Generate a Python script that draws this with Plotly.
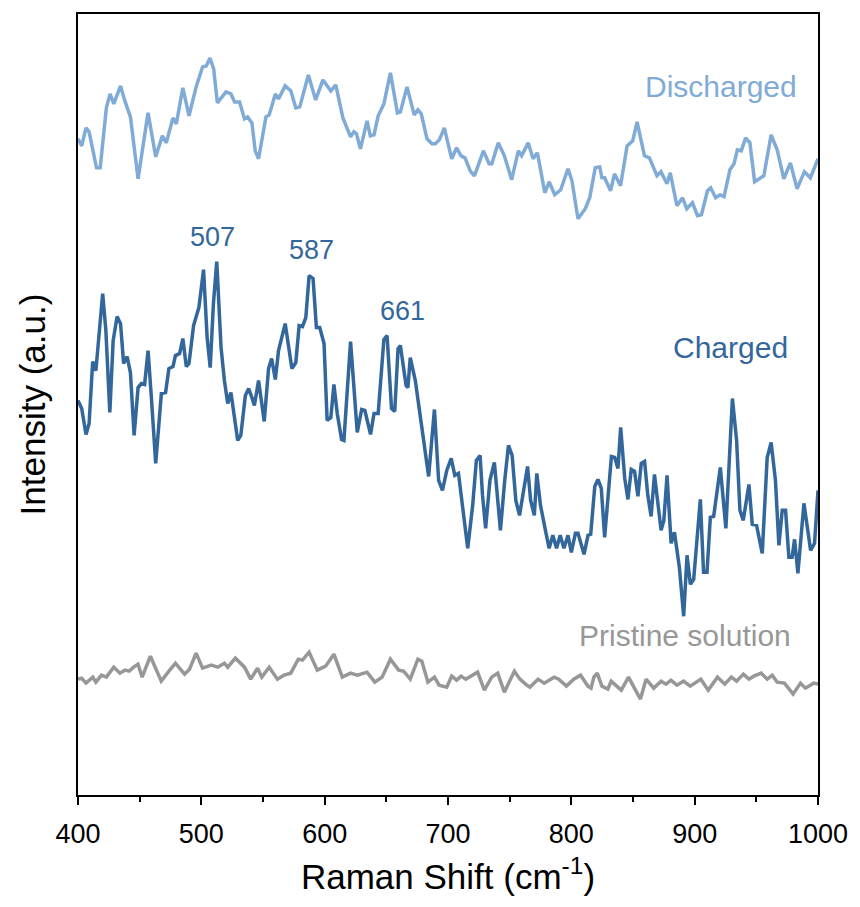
import plotly.graph_objects as go

# ---------------- data (Raman shift in cm^-1, intensity in arbitrary units) ----------------
dis_x = [400, 403, 406.5, 409, 415, 418, 423, 426, 429, 434.5, 438, 442.5, 448.7, 456.8, 463, 468.4, 471.6, 477,
         479.7, 485, 490, 496, 501, 504, 507, 510, 513, 520, 524, 527, 531, 535, 537.5, 541, 543.7, 546.4, 552.4,
         555, 560, 562.6, 568, 572.6, 576.6, 579.8, 586.8, 592.7, 598.6, 605, 609, 614.8, 621, 623.7, 625.8, 629,
         634.4, 637, 640, 643.4, 648, 653.3, 659, 661.4, 666.8, 672.6, 675.6, 678.3, 683, 687, 689.7, 693, 697,
         703, 707, 710.6, 713.8, 718, 721.4, 728.7, 733.3, 735.5, 740.8, 745.7, 751.6, 757, 759.7, 765, 769,
         772.5, 778.5, 782, 786.5, 791.4, 797.3, 800.5, 805.4, 811.3, 814.9, 819.4, 823, 824.8, 827, 831.8, 835,
         839.9, 845.2, 849.8, 853.3, 859.3, 863.3, 869.4, 872.7, 877.5, 880.2, 885.6, 890.2, 893.6, 898.2, 902.3,
         905.5, 910.4, 913, 917, 920.6, 923.8, 928.6, 931.9, 934.6, 937.8, 941.3, 944.8, 948.6, 956.1, 962,
         966.9, 972.3, 977.6, 983, 989, 993.8, 1000]
dis_y = [657, 650, 668, 664, 628, 628, 688, 702, 692, 710, 695, 679, 617, 683, 639, 660, 653, 678,
         672, 708, 680, 710, 729, 730, 738, 727, 693, 704, 702, 694, 694, 677, 679, 673, 645, 637, 679,
         681, 702, 697, 710, 705, 688, 689, 721, 696, 716, 705, 711, 678, 659, 664, 662, 647,
         675, 660, 661, 680, 692, 723, 683, 684, 709, 681, 686, 682, 657, 652, 652, 656, 668,
         637, 648, 640, 638, 625, 620, 645, 632, 632, 653, 640, 616, 645, 640, 653, 637,
         643, 603, 614, 601, 606, 627, 615, 577, 587, 598, 628, 629, 618, 618, 605, 622,
         610, 650, 655, 674, 640, 638, 620, 624, 612, 623, 590, 598, 587, 593, 580,
         581, 605, 608, 598, 601, 599, 626, 632, 646, 645, 658, 653, 614, 620, 661,
         646, 617, 633, 607, 624, 618, 637]

chg_x = [400, 403, 406.5, 409, 411.9, 414.5, 420, 422.6, 425.8, 428.5, 431.7, 434.5, 437, 439.8, 442.5, 445.5,
         448.7, 451.4, 454, 456.8, 459.5, 463, 467.6, 471, 473.7, 477, 479, 482.4, 485, 487.8, 490, 493.7, 498,
         501.8, 504.7, 507.2, 509.8, 512.5, 516, 518.7, 521.4, 524, 529.5, 532, 535.7, 538.4, 541, 543, 546.4,
         551, 554.5, 557, 560, 562.6, 568, 573.4, 576.6, 579.3, 582, 584.7, 587.4, 590.6, 593.3, 596, 599.5,
         602, 605, 607.5, 610.2, 613.7, 615.6, 621, 626.4, 630, 632.6, 637.2, 640, 643.4, 648, 650.6, 654.2,
         656.8, 659.5, 661.4, 666, 667.5, 669.4, 673.5, 678.8, 684.3, 689, 692.4, 695.5, 699, 702.6, 705.5,
         708.5, 712, 716, 720, 723, 726, 728, 730.5, 734, 737.6, 740, 742.5, 746, 749, 752, 755, 758, 761,
         764.5, 767, 770, 772, 775, 779, 782, 785, 788, 791, 794, 797.3, 800, 803.3, 805.4, 810.3, 813.5,
         815.7, 819, 821.6, 824.3, 827, 832.5, 835.2, 837.8, 840, 843.3, 845.9, 848.6, 851.3, 854, 856.7,
         859.4, 862, 864.7, 867.4, 872.8, 875, 877.6, 880.9, 883.6, 887.6, 891.1, 893.8, 896.5, 899.2, 904.6,
         907.2, 910, 912.7, 915.4, 920.8, 925.3, 930.6, 934, 936.7, 939.4, 944, 946.7, 950.2, 954.8, 958.8,
         962, 965.5, 968.3, 971, 973.7, 976.4, 979, 981, 983.7, 988.6, 994, 997.2, 1000]
chg_y = [395, 387, 361, 372, 434, 425, 502, 465, 383, 455, 479, 472, 432, 439, 423, 360,
         408, 412, 411, 445, 398, 332, 402, 403, 427, 429, 440, 442, 457, 429, 432, 470, 488,
         526, 458, 428, 492, 534, 448, 415, 392, 403, 355, 360, 400, 407, 398, 390, 415,
         374, 427, 437, 416, 445, 472, 427, 433, 470, 469, 478, 520, 517, 468, 468, 452,
         375, 378, 411, 382, 356, 355, 454, 363, 386, 385, 361, 382, 382, 456, 460, 387,
         384, 447, 450, 410, 408, 438, 415, 368, 319, 386, 315, 305, 325, 337, 320,
         322, 285, 247, 290, 335, 340, 300, 267, 315, 333, 295, 265, 315, 350, 340, 295, 280, 305,
         329, 295, 280, 322, 290, 265, 247, 260, 247, 260, 247, 260, 243, 262, 262, 241, 260,
         261, 309, 316, 307, 258, 339, 338, 327, 368, 317, 296, 326, 324, 299, 332,
         334, 300, 279, 321, 265, 275, 320, 252, 263, 228, 179, 240, 211, 216, 296,
         223, 223, 278, 279, 328, 267, 397, 355, 285, 275, 311, 271, 270, 242, 338,
         353, 315, 250, 285, 285, 238, 238, 256, 222, 292, 245, 252, 305]

pri_x = [400, 403, 406.5, 412, 414.5, 419, 423, 429, 434, 438, 441.5, 445, 448.7, 452, 458.7, 467.5, 473.7,
         479, 486.4, 490.4, 495.8, 501, 508, 513.3, 518.7, 521.4, 527.6, 535, 540, 545.6, 549, 555, 561.7,
         567, 572.5, 578.6, 582, 587.4, 594, 600.8, 607.5, 614.3, 621, 626.4, 634.4, 640.6, 646.6, 653.3,
         660, 664, 669.4, 675.6, 678.8, 683.7, 689, 692.8, 699, 703, 707, 710.6, 714.4, 724, 729.5, 735.4,
         740.3, 745.7, 753.8, 758.3, 762.9, 766.4, 773, 778, 786, 789.8, 796, 802, 807.5, 813.5, 816,
         818.3, 821, 824.8, 829.6, 832.3, 840.5, 846.4, 850.7, 856, 860.6, 866.8, 872.8, 876.8, 880.8,
         885.6, 891, 896.4, 905, 911, 918.5, 924.4, 929.8, 934, 939.5, 944, 948, 954, 958.8, 962.9,
         966.9, 972.8, 979.8, 985.8, 989.8, 996.5, 1000]
pri_y = [116, 117, 112, 118, 113, 120, 118, 128, 122, 125, 124, 128, 131, 118, 139, 114, 124,
         132, 121, 126, 142, 127, 130, 128, 132, 128, 137, 128, 116, 127, 118, 128, 116,
         120, 122, 136, 135, 143, 125, 129, 141, 118, 122, 120, 123, 113, 118, 136,
         125, 124, 116, 136, 134, 113, 118, 110, 108, 119, 115, 119, 116, 123, 105, 118,
         122, 103, 124, 116, 111, 108, 116, 112, 118, 116, 109, 116, 120, 109, 107,
         118, 122, 109, 106, 114, 105, 118, 108, 96, 116, 107, 114, 111, 115,
         110, 114, 109, 116, 105, 118, 111, 118, 114, 121, 116, 119, 122, 116, 120,
         113, 112, 101, 112, 107, 112, 111]

peak_x = [507, 587, 661]
peak_text = ["507", "587", "661"]
peak_label_y = [559, 546, 485]

series_names = ["Discharged", "Charged", "Pristine solution"]
series_label_x = [921, 929, 892]
series_label_y = [709, 448, 160]

C_DIS = "#80abd6"
C_CHG = "#33679c"
C_PRI = "#979797"
FONT = "Liberation Sans, Arial, sans-serif"

fig = go.Figure()
for xs, ys, c, n in [(dis_x, dis_y, C_DIS, series_names[0]),
                     (chg_x, chg_y, C_CHG, series_names[1]),
                     (pri_x, pri_y, C_PRI, series_names[2])]:
    fig.add_trace(go.Scatter(x=xs, y=ys, mode="lines", name=n,
                             line=dict(color=c, width=3.5), showlegend=False))

for px_, t, py_ in zip(peak_x, peak_text, peak_label_y):
    fig.add_annotation(x=px_ + 2, y=py_, text=t, showarrow=False,
                       font=dict(family=FONT, size=27, color=C_CHG))

for n, lx, ly, c in zip(series_names, series_label_x, series_label_y, [C_DIS, C_CHG, C_PRI]):
    fig.add_annotation(x=lx, y=ly, text=n, showarrow=False,
                       font=dict(family=FONT, size=30, color=c))

fig.update_layout(
    width=860, height=907,
    margin=dict(l=78, r=38, t=13, b=112),
    paper_bgcolor="white", plot_bgcolor="white",
    font=dict(family=FONT, color="black"),
)
fig.update_xaxes(
    range=[400, 1000], showgrid=False, zeroline=False,
    showline=True, mirror=True, linecolor="black", linewidth=2,
    ticks="outside", ticklen=8, tickwidth=2, tickcolor="black",
    tick0=400, dtick=100, tickfont=dict(size=27, family=FONT),
    ticklabelstandoff=6,
    minor=dict(dtick=50, ticks="outside", ticklen=5, tickwidth=2, tickcolor="black"),
    title=dict(text="Raman Shift (cm<sup>-1</sup>)", font=dict(size=35, family=FONT), standoff=16),
)
fig.update_yaxes(
    range=[0, 782], showgrid=False, zeroline=False,
    showline=True, mirror=True, linecolor="black", linewidth=2,
    ticks="", showticklabels=False,
    title=dict(text="Intensity (a.u.)", font=dict(size=35, family=FONT), standoff=20),
)

fig.write_html("out.html")
